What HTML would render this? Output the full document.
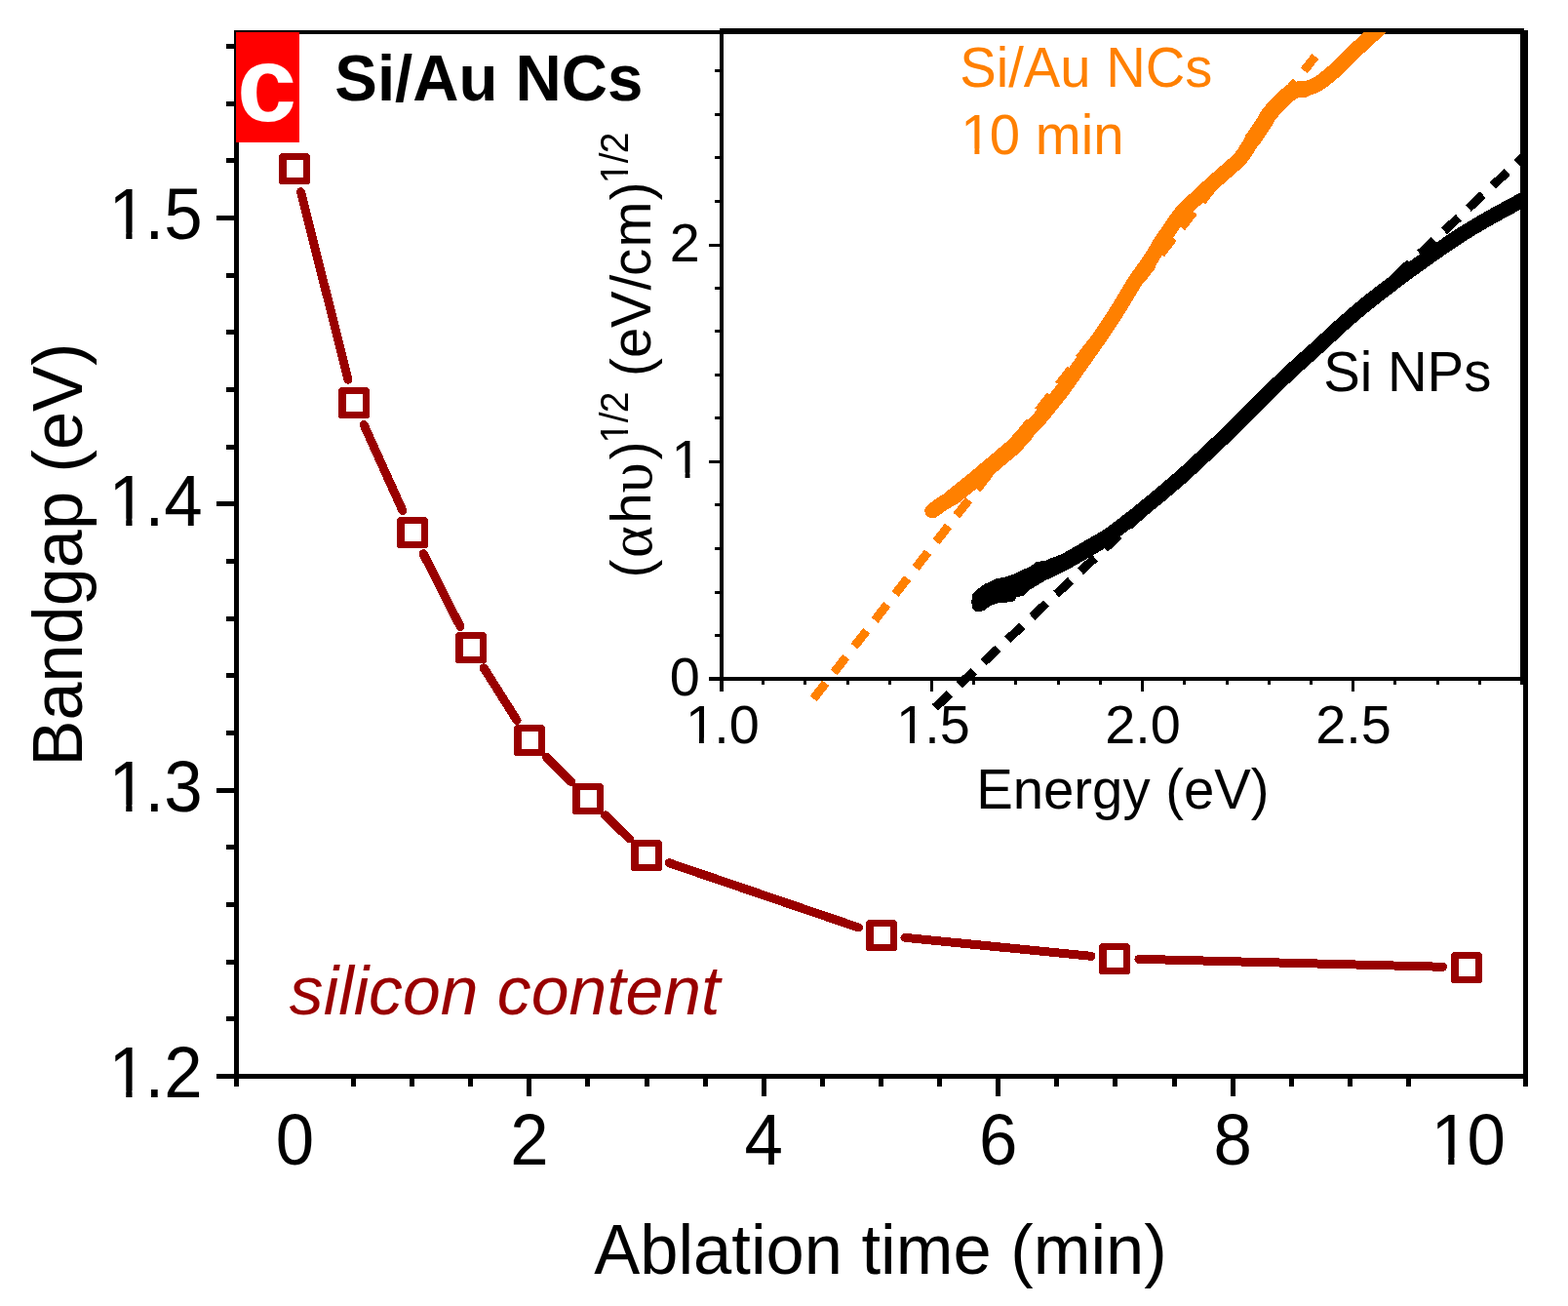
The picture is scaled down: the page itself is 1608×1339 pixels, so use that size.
<!DOCTYPE html>
<html lang="en">
<head>
<meta charset="utf-8">
<title>Bandgap vs ablation time</title>
<style>
html, body { margin: 0; padding: 0; background: #ffffff; }
body { width: 1608px; height: 1339px; overflow: hidden; }
svg { display: block; }
text { font-kerning: none; white-space: pre; }
</style>
</head>
<body>
<svg width="1608" height="1339" viewBox="0 0 1608 1339">
<rect width="1608" height="1339" fill="#ffffff"/>
<g id="main-frame" fill="#000" shape-rendering="crispEdges">
<rect x="240" y="31" width="5" height="1083"/>
<rect x="1562" y="31" width="5" height="1083"/>
<rect x="222" y="1101" width="1345" height="5"/>
<rect x="240" y="31" width="1327" height="4"/>
<rect x="232" y="1042" width="8" height="5"/>
<rect x="232" y="984" width="8" height="5"/>
<rect x="232" y="925" width="8" height="5"/>
<rect x="232" y="866" width="8" height="5"/>
<rect x="222" y="808" width="18" height="5"/>
<rect x="232" y="749" width="8" height="5"/>
<rect x="232" y="690" width="8" height="5"/>
<rect x="232" y="632" width="8" height="5"/>
<rect x="232" y="573" width="8" height="5"/>
<rect x="222" y="514" width="18" height="5"/>
<rect x="232" y="456" width="8" height="5"/>
<rect x="232" y="397" width="8" height="5"/>
<rect x="232" y="338" width="8" height="5"/>
<rect x="232" y="280" width="8" height="5"/>
<rect x="222" y="221" width="18" height="5"/>
<rect x="232" y="162" width="8" height="5"/>
<rect x="232" y="104" width="8" height="5"/>
<rect x="232" y="45" width="8" height="5"/>
<rect x="360" y="1106" width="5" height="8"/>
<rect x="420" y="1106" width="5" height="8"/>
<rect x="480" y="1106" width="5" height="8"/>
<rect x="540" y="1106" width="5" height="18"/>
<rect x="600" y="1106" width="5" height="8"/>
<rect x="661" y="1106" width="5" height="8"/>
<rect x="721" y="1106" width="5" height="8"/>
<rect x="781" y="1106" width="5" height="18"/>
<rect x="841" y="1106" width="5" height="8"/>
<rect x="901" y="1106" width="5" height="8"/>
<rect x="961" y="1106" width="5" height="8"/>
<rect x="1021" y="1106" width="5" height="18"/>
<rect x="1081" y="1106" width="5" height="8"/>
<rect x="1141" y="1106" width="5" height="8"/>
<rect x="1202" y="1106" width="5" height="8"/>
<rect x="1262" y="1106" width="5" height="18"/>
<rect x="1322" y="1106" width="5" height="8"/>
<rect x="1382" y="1106" width="5" height="8"/>
<rect x="1442" y="1106" width="5" height="8"/>
</g>
<g id="main-labels" font-family="'Liberation Sans', Arial, sans-serif" fill="#000">
<g transform="translate(207.6 1125.2) scale(1 1.04)"><text x="-98.42" y="0" font-size="70.8" dx="2.27 -2.27 0">1.2</text><rect x="-93.73" y="-6.59" width="15.38" height="7.39" fill="#fff"/><rect x="-72.1" y="-6.59" width="12.56" height="7.39" fill="#fff"/></g>
<g transform="translate(207.6 831.87) scale(1 1.04)"><text x="-98.42" y="0" font-size="70.8" dx="2.27 -2.27 0">1.3</text><rect x="-93.73" y="-6.59" width="15.38" height="7.39" fill="#fff"/><rect x="-72.1" y="-6.59" width="12.56" height="7.39" fill="#fff"/></g>
<g transform="translate(207.6 538.54) scale(1 1.04)"><text x="-98.42" y="0" font-size="70.8" dx="2.27 -2.27 0">1.4</text><rect x="-93.73" y="-6.59" width="15.38" height="7.39" fill="#fff"/><rect x="-72.1" y="-6.59" width="12.56" height="7.39" fill="#fff"/></g>
<g transform="translate(207.6 245.21) scale(1 1.04)"><text x="-98.42" y="0" font-size="70.8" dx="2.27 -2.27 0">1.5</text><rect x="-93.73" y="-6.59" width="15.38" height="7.39" fill="#fff"/><rect x="-72.1" y="-6.59" width="12.56" height="7.39" fill="#fff"/></g>
<g transform="translate(302.5 1193.8) scale(1 1.04)"><text x="-19.69" y="0" font-size="70.8">0</text></g>
<g transform="translate(542.9 1193.8) scale(1 1.04)"><text x="-19.69" y="0" font-size="70.8">2</text></g>
<g transform="translate(783.3 1193.8) scale(1 1.04)"><text x="-19.69" y="0" font-size="70.8">4</text></g>
<g transform="translate(1023.7 1193.8) scale(1 1.04)"><text x="-19.69" y="0" font-size="70.8">6</text></g>
<g transform="translate(1264.1 1193.8) scale(1 1.04)"><text x="-19.69" y="0" font-size="70.8">8</text></g>
<g transform="translate(1504.5 1193.8) scale(1 1.04)"><text x="-39.38" y="0" font-size="70.8" dx="2.27 -2.27">10</text><rect x="-34.68" y="-6.59" width="15.38" height="7.39" fill="#fff"/><rect x="-13.05" y="-6.59" width="12.56" height="7.39" fill="#fff"/></g>
<g transform="translate(609.26 1305.9) scale(1 1.02)"><text x="0" y="0" font-size="70.5">Ablation time (min)</text></g>
<g transform="translate(84 785.47) rotate(-90) scale(1 1.02)"><text x="0" y="0" font-size="70.3">Bandgap (eV)</text></g>
</g>
<g id="main-data" shape-rendering="crispEdges">
<path d="M308.49 196.76L357.01 389.24M373.08 435.33L412.92 523.57M434.1 567.74L472 642.36M496.19 684.91L530.01 738.39M560.45 776.4L585.65 801.5M620.61 835.83L645.49 859.87M686.29 884.81L880.41 950.99M927.98 961.32L1119.02 980.28M1167.89 983.32L1479.51 991.28" fill="none" stroke="#990000" stroke-width="9" stroke-linecap="round"/>
<rect x="286" y="157" width="32" height="32" rx="3.5" fill="#990000"/><rect x="294" y="164" width="17" height="18" fill="#fff"/>
<rect x="347" y="397" width="32" height="32" rx="3.5" fill="#990000"/><rect x="355" y="404" width="17" height="18" fill="#fff"/>
<rect x="407" y="530" width="32" height="32" rx="3.5" fill="#990000"/><rect x="415" y="537" width="17" height="18" fill="#fff"/>
<rect x="467" y="648" width="32" height="32" rx="3.5" fill="#990000"/><rect x="475" y="655" width="17" height="18" fill="#fff"/>
<rect x="527" y="743" width="32" height="32" rx="3.5" fill="#990000"/><rect x="535" y="750" width="17" height="18" fill="#fff"/>
<rect x="587" y="803" width="32" height="32" rx="3.5" fill="#990000"/><rect x="595" y="810" width="17" height="18" fill="#fff"/>
<rect x="647" y="861" width="32" height="32" rx="3.5" fill="#990000"/><rect x="655" y="868" width="17" height="18" fill="#fff"/>
<rect x="888" y="943" width="32" height="32" rx="3.5" fill="#990000"/><rect x="896" y="950" width="17" height="18" fill="#fff"/>
<rect x="1127" y="967" width="32" height="32" rx="3.5" fill="#990000"/><rect x="1135" y="974" width="17" height="18" fill="#fff"/>
<rect x="1488" y="976" width="32" height="32" rx="3.5" fill="#990000"/><rect x="1496" y="983" width="17" height="18" fill="#fff"/>
</g>
<rect x="242" y="33" width="65" height="113" fill="#ff0000" shape-rendering="crispEdges"/>
<g id="titles" font-family="'Liberation Sans', Arial, sans-serif">
<g transform="translate(273.5 123.7)"><text x="-30.59" y="0" font-size="110" font-weight="bold" fill="#fff">c</text></g>
<g transform="translate(343.32 103.4) scale(1 1.02)"><text x="0" y="0" font-size="65.4" font-weight="bold">Si/Au NCs</text></g>
<g transform="translate(296.83 1040) scale(1 1.02)"><text x="0" y="0" font-size="69.7" font-style="italic" fill="#990000">silicon content</text></g>
</g>
<clipPath id="insetclip"><rect x="740" y="33" width="820" height="663"/></clipPath>
<clipPath id="dashclip"><rect x="700" y="0" width="860" height="800"/></clipPath>
<g id="fits" fill="none" stroke-width="9" stroke-dasharray="20.4 13.65" shape-rendering="crispEdges">
<path d="M834.2 716.4L1348.8 57.79" stroke="#ff8000"/>
<path d="M958.85 725.47L1579.52 144.66" stroke="#000" clip-path="url(#dashclip)"/>
</g>
<g id="curves" fill="none" stroke-linecap="round" stroke-linejoin="round" clip-path="url(#insetclip)" shape-rendering="crispEdges">
<path d="M956.2 523.7C957.65 522.67 961.38 519.88 964.9 517.5C968.42 515.12 973.15 512.4 977.3 509.4C981.45 506.4 985.65 502.82 989.8 499.5C993.95 496.18 998.07 492.93 1002.2 489.5C1006.33 486.07 1010.45 482.42 1014.6 478.9C1018.75 475.38 1022.95 471.92 1027.1 468.4C1031.25 464.88 1035.37 461.85 1039.5 457.8C1043.63 453.75 1047.75 448.57 1051.9 444.1C1056.05 439.63 1060.25 435.67 1064.4 431C1068.55 426.33 1073.03 420.72 1076.8 416.1C1080.57 411.48 1083.93 407.32 1087 403.3C1090.07 399.28 1090.58 398.48 1095.2 392C1099.82 385.52 1108.55 373.15 1114.7 364.4C1120.85 355.65 1126.5 347.8 1132.1 339.5C1137.7 331.2 1143.12 322.88 1148.3 314.6C1153.48 306.32 1157.82 298.08 1163.2 289.8C1168.58 281.52 1175.83 272.17 1180.6 264.9C1185.37 257.63 1188.8 250.88 1191.8 246.2C1194.8 241.52 1195.28 241.47 1198.6 236.8C1201.92 232.13 1206.32 224.42 1211.7 218.2C1217.08 211.98 1224.27 205.73 1230.9 199.5C1237.53 193.27 1244.65 187.02 1251.5 180.8C1258.35 174.58 1266.52 168.42 1272 162.2C1277.48 155.98 1280.25 149.72 1284.4 143.5C1288.55 137.28 1294.05 129.32 1296.9 124.9C1299.75 120.48 1298.73 120.48 1301.5 117C1304.27 113.52 1309.42 107.93 1313.5 104C1317.58 100.07 1321.85 95.55 1326 93.4C1330.15 91.25 1334.27 92.25 1338.4 91.1C1342.53 89.95 1346.65 88.82 1350.8 86.5C1354.95 84.18 1359.15 80.62 1363.3 77.2C1367.45 73.78 1371.55 69.93 1375.7 66C1379.85 62.07 1384.05 57.63 1388.2 53.6C1392.35 49.57 1396.47 45.63 1400.6 41.8C1404.73 37.97 1408.77 34.48 1413 30.6C1417.23 26.72 1423.83 20.52 1426 18.5" stroke="#ff8000" stroke-width="15.6"/>
<path d="M977.3 509.4C979.38 507.75 985.65 502.82 989.8 499.5C993.95 496.18 998.07 492.93 1002.2 489.5C1006.33 486.07 1010.45 482.42 1014.6 478.9C1018.75 475.38 1022.95 471.92 1027.1 468.4C1031.25 464.88 1035.37 461.85 1039.5 457.8C1043.63 453.75 1049.83 446.38 1051.9 444.1" stroke="#ff8000" stroke-width="17"/>
<path d="M1284.4 143.5C1286.48 140.4 1294.05 129.32 1296.9 124.9C1299.75 120.48 1298.73 120.48 1301.5 117C1304.27 113.52 1309.42 107.93 1313.5 104C1317.58 100.07 1321.85 95.55 1326 93.4C1330.15 91.25 1336.33 91.48 1338.4 91.1" stroke="#ff8000" stroke-width="17"/>
<path d="M1004 617.2C1005.82 616.08 1011.02 612.4 1014.9 610.5C1018.78 608.6 1023.15 607.13 1027.3 605.8C1031.45 604.47 1035.65 604.28 1039.8 602.5C1043.95 600.72 1048.07 597.43 1052.2 595.1C1056.33 592.77 1060.45 590.58 1064.6 588.5C1068.75 586.42 1072.95 584.6 1077.1 582.6C1081.25 580.6 1085.37 578.65 1089.5 576.5C1093.63 574.35 1097.75 572.05 1101.9 569.7C1106.05 567.35 1110.25 564.8 1114.4 562.4C1118.55 560 1122.65 557.8 1126.8 555.3C1130.95 552.8 1135.15 550.28 1139.3 547.4C1143.45 544.52 1147.57 541.13 1151.7 538C1155.83 534.87 1159.95 531.9 1164.1 528.6C1168.25 525.3 1172.45 521.62 1176.6 518.2C1180.75 514.78 1183.07 513.1 1189 508.1C1194.93 503.1 1204.18 495.35 1212.2 488.2C1220.22 481.05 1228.82 472.97 1237.1 465.2C1245.38 457.43 1253.62 449.68 1261.9 441.6C1270.18 433.52 1280.05 423.43 1286.8 416.7C1293.55 409.97 1295.65 407.73 1302.4 401.2C1309.15 394.67 1319 385.18 1327.3 377.5C1335.6 369.82 1343.9 362.67 1352.2 355.1C1360.5 347.53 1368.82 339.45 1377.1 332.1C1385.38 324.75 1393.62 317.73 1401.9 311C1410.18 304.27 1418.5 298.02 1426.8 291.7C1435.1 285.38 1443.73 278.9 1451.7 273.1C1459.67 267.3 1466.63 262.4 1474.6 256.9C1482.57 251.4 1491.2 245.38 1499.5 240.1C1507.8 234.82 1516.1 229.97 1524.4 225.2C1532.7 220.43 1543.5 214.67 1549.3 211.5C1555.1 208.33 1554.92 208.37 1559.2 206.2C1563.48 204.03 1572.37 199.78 1575 198.5" stroke="#000" stroke-width="15.4"/>
<path d="M1064.6 589.3C1066.68 588.32 1072.95 585.4 1077.1 583.4C1081.25 581.4 1085.37 579.45 1089.5 577.3C1093.63 575.15 1097.75 572.85 1101.9 570.5C1106.05 568.15 1110.25 565.6 1114.4 563.2C1118.55 560.8 1124.73 557.28 1126.8 556.1" stroke="#000" stroke-width="17"/>
<path d="M997.46 610.7L1002.44 605.1L1009.9 599.5L1018.61 595.77L1022.34 593.91L1032.29 592.04L1042.24 588.31L1048.46 585.2L1057.16 581.47L1063.38 576.49L1072.09 575.87L1077.06 573.38L1087.01 569.65L1082.04 587.06L1069.6 595.77L1054.68 604.48L1049.7 610.07L1042.24 611.32L1039.75 615.67L1032.29 616.92L1023.58 617.54L1014.88 620.65L1008.66 625.62L1001.19 626.24L997.46 622.51Z" fill="#000" stroke="#000" stroke-width="1.5"/>
</g>
<g id="inset-frame" fill="#000" shape-rendering="crispEdges">
<rect x="738" y="29" width="4" height="680"/>
<rect x="1559" y="29" width="4" height="669"/>
<rect x="727" y="694" width="836" height="4"/>
<rect x="738" y="29" width="825" height="4"/>
<rect x="733" y="650" width="5" height="3"/>
<rect x="733" y="606" width="5" height="3"/>
<rect x="733" y="561" width="5" height="3"/>
<rect x="733" y="516" width="5" height="3"/>
<rect x="727" y="472" width="11" height="3"/>
<rect x="733" y="427" width="5" height="3"/>
<rect x="733" y="383" width="5" height="3"/>
<rect x="733" y="338" width="5" height="3"/>
<rect x="733" y="294" width="5" height="3"/>
<rect x="727" y="250" width="11" height="3"/>
<rect x="733" y="205" width="5" height="3"/>
<rect x="733" y="160" width="5" height="3"/>
<rect x="733" y="116" width="5" height="3"/>
<rect x="733" y="71" width="5" height="3"/>
<rect x="781" y="698" width="3" height="4"/>
<rect x="824" y="698" width="3" height="4"/>
<rect x="868" y="698" width="3" height="4"/>
<rect x="911" y="698" width="3" height="4"/>
<rect x="954" y="698" width="3" height="11"/>
<rect x="997" y="698" width="3" height="4"/>
<rect x="1040" y="698" width="3" height="4"/>
<rect x="1084" y="698" width="3" height="4"/>
<rect x="1127" y="698" width="3" height="4"/>
<rect x="1170" y="698" width="3" height="11"/>
<rect x="1213" y="698" width="3" height="4"/>
<rect x="1257" y="698" width="3" height="4"/>
<rect x="1300" y="698" width="3" height="4"/>
<rect x="1343" y="698" width="3" height="4"/>
<rect x="1386" y="698" width="3" height="11"/>
<rect x="1429" y="698" width="3" height="4"/>
<rect x="1473" y="698" width="3" height="4"/>
<rect x="1516" y="698" width="3" height="4"/>
<rect x="1559" y="698" width="3" height="4"/>
</g>
<g id="inset-labels" font-family="'Liberation Sans', Arial, sans-serif" fill="#000">
<g transform="translate(717.8 712.6)"><text x="-31.03" y="0" font-size="55.8">0</text></g>
<g transform="translate(717.8 490.1)"><text x="-31.03" y="0" font-size="55.8" dx="1.79">1</text><rect x="-27.48" y="-5.47" width="12.27" height="6.27" fill="#fff"/><rect x="-10.29" y="-5.47" width="10.05" height="6.27" fill="#fff"/></g>
<g transform="translate(717.8 267.6)"><text x="-31.03" y="0" font-size="55.8">2</text></g>
<g transform="translate(739.9 762)"><text x="-38.78" y="0" font-size="55.8" dx="1.79 -1.79 0">1.0</text><rect x="-35.23" y="-5.47" width="12.27" height="6.27" fill="#fff"/><rect x="-18.04" y="-5.47" width="10.05" height="6.27" fill="#fff"/></g>
<g transform="translate(955.95 762)"><text x="-38.78" y="0" font-size="55.8" dx="1.79 -1.79 0">1.5</text><rect x="-35.23" y="-5.47" width="12.27" height="6.27" fill="#fff"/><rect x="-18.04" y="-5.47" width="10.05" height="6.27" fill="#fff"/></g>
<g transform="translate(1172 762)"><text x="-38.78" y="0" font-size="55.8">2.0</text></g>
<g transform="translate(1388.05 762)"><text x="-38.78" y="0" font-size="55.8">2.5</text></g>
<g transform="translate(1001.18 828.7) scale(1 1.02)"><text x="0" y="0" font-size="56.3">Energy (eV)</text></g>
<g transform="translate(1357.24 400.7) scale(1 1.03)"><text x="0" y="0" font-size="56.3">Si NPs</text></g>
<g transform="translate(984.25 88.9) scale(1 1.025)"><text x="0" y="0" font-size="56.2" fill="#ff8000">Si/Au NCs</text></g>
<g transform="translate(983.46 158) scale(1 1.03)"><text x="0" y="0" font-size="56.3" fill="#ff8000" dx="1.8 -1.8 0 0 0 0">10 min</text><rect x="3.59" y="-5.51" width="12.37" height="6.31" fill="#fff"/><rect x="20.93" y="-5.51" width="10.13" height="6.31" fill="#fff"/></g>
</g>
<g id="inset-ytitle" font-family="'Liberation Sans', Arial, sans-serif" fill="#000" transform="translate(667.1 592.4) rotate(-90) scale(1 1.02)"><text font-size="56.3" x="0 20.5 55.6 87.2 121.1 138 159.1 169.1 190.4 206.5 225.4 256.5 295 309.4 338.9 387.1 404.1 425.2 435.2" y="0 0.4 0 0.4 0 -23.05 -23.05 -23.05 0 0 0 0 0 0 0 0 -23.05 -23.05 -23.05">(<tspan font-family="'Liberation Serif', 'Times New Roman', serif" font-size="62.5">α</tspan>h<tspan font-family="'Liberation Serif', 'Times New Roman', serif" font-size="62.5">υ</tspan>)<tspan font-size="39">1/2</tspan> (eV/cm)<tspan font-size="39">1/2</tspan></text><rect x="140.27" y="-27.26" width="7.54" height="5.01" fill="#fff"/><rect x="151.25" y="-27.26" width="7.23" height="5.01" fill="#fff"/><rect x="406.37" y="-27.26" width="7.54" height="5.01" fill="#fff"/><rect x="417.35" y="-27.26" width="7.23" height="5.01" fill="#fff"/></g>
</svg>
</body>
</html>
